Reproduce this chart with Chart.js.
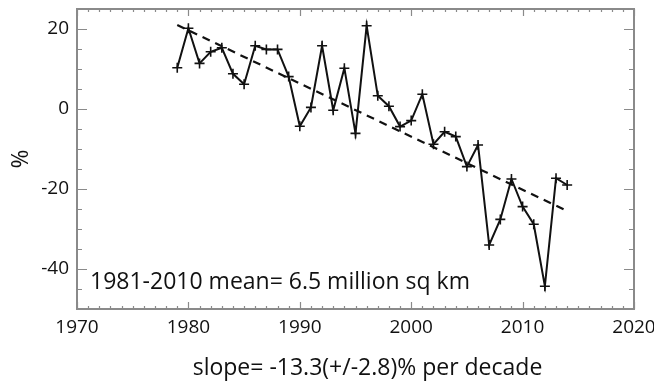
<!DOCTYPE html>
<html lang="en">
<head>
    <meta charset="UTF-8">
    <title>Sea ice extent anomaly</title>
    <script src="https://cdn.jsdelivr.net/npm/chart.js"></script>
    <style>
        body { margin: 0; background: #fff; }
    </style>
</head>
<body>
    <canvas id="myChart" width="654" height="381"></canvas>

    <script>
        // data
        const years = [1979, 1980, 1981, 1982, 1983, 1984, 1985, 1986, 1987, 1988,
                       1989, 1990, 1991, 1992, 1993, 1994, 1995, 1996, 1997, 1998,
                       1999, 2000, 2001, 2002, 2003, 2004, 2005, 2006, 2007, 2008,
                       2009, 2010, 2011, 2012, 2013, 2014];
        const anomaly = [10.3, 20.2, 11.4, 14.3, 15.3, 8.8, 6.2, 15.8, 14.9, 14.9,
                         8.1, -4.3, 0.4, 15.8, -0.3, 10.2, -6.1, 20.8, 3.3, 0.7,
                         -4.4, -2.9, 3.7, -8.8, -5.7, -6.9, -14.4, -9.0, -34.0, -27.6,
                         -17.5, -24.4, -28.8, -44.3, -17.3, -19.0];
        const trendYears = [1979, 2014];
        const trendValues = [21.0, -25.5];

        const xTicks = [1970, 1980, 1990, 2000, 2010, 2020];
        const yTicks = [-40, -20, 0, 20];
        const meanLabel = '1981-2010 mean= 6.5 million sq km';
        const slopeLabel = 'slope= -13.3(+/-2.8)% per decade';

        const FONT = "'Open Sans', sans-serif";

        // box, inward ticks and the two text lines
        const framePlugin = {
            id: 'frame',
            afterDraw(chart) {
                const { ctx, chartArea: a, scales: { x, y } } = chart;
                ctx.save();
                ctx.strokeStyle = '#8a8a8a';
                ctx.lineWidth = 1.2;
                ctx.beginPath();
                for (let yr = x.min; yr <= x.max; yr++) {
                    const px = Math.round(x.getPixelForValue(yr)) + 0.5;
                    const len = yr % 10 === 0 ? 7 : 3;
                    ctx.moveTo(px, a.bottom); ctx.lineTo(px, a.bottom - len);
                    ctx.moveTo(px, a.top); ctx.lineTo(px, a.top + len);
                }
                for (let v = y.min; v <= y.max; v += 5) {
                    const py = Math.round(y.getPixelForValue(v)) + 0.5;
                    const len = v % 20 === 0 ? 10 : 5;
                    ctx.moveTo(a.left, py); ctx.lineTo(a.left + len, py);
                    ctx.moveTo(a.right, py); ctx.lineTo(a.right - len, py);
                }
                ctx.stroke();
                ctx.lineWidth = 2;
                ctx.strokeRect(a.left, a.top, a.right - a.left, a.bottom - a.top);

                ctx.fillStyle = '#111';
                ctx.font = '23px ' + FONT;
                ctx.textBaseline = 'alphabetic';
                ctx.textAlign = 'left';
                ctx.fillText(meanLabel, a.left + 13, a.bottom - 20);
                ctx.textAlign = 'center';
                ctx.fillText(slopeLabel, (a.left + a.right) / 2 + 12, a.bottom + 66);
                ctx.restore();
            }
        };

        const noOverhang = s => {
            s.paddingLeft = 0; s.paddingRight = 0;
            s.paddingTop = 0; s.paddingBottom = 0;
        };

        const ctx = document.getElementById('myChart').getContext('2d');
        new Chart(ctx, {
            type: 'line',
            data: {
                datasets: [{
                    data: years.map((yr, i) => ({ x: yr, y: anomaly[i] })),
                    borderColor: '#111',
                    borderWidth: 2,
                    pointStyle: 'cross',
                    pointRadius: 5,
                    pointBorderWidth: 1.6,
                    pointBorderColor: '#111',
                    tension: 0
                }, {
                    data: trendYears.map((yr, i) => ({ x: yr, y: trendValues[i] })),
                    borderColor: '#111',
                    borderWidth: 2.2,
                    borderDash: [8, 6],
                    pointRadius: 0
                }]
            },
            options: {
                responsive: false,
                animation: false,
                maintainAspectRatio: false,
                layout: { padding: { top: 9, right: 20, left: 0, bottom: 0 } },
                plugins: { legend: { display: false }, tooltip: { enabled: false } },
                scales: {
                    x: {
                        type: 'linear',
                        min: 1970,
                        max: 2020,
                        afterBuildTicks: s => { s.ticks = xTicks.map(v => ({ value: v })); },
                        afterFit: s => { s.height = 72; noOverhang(s); },
                        grid: { display: false, drawTicks: false },
                        border: { display: false },
                        ticks: {
                            color: '#111',
                            padding: 7,
                            maxRotation: 0,
                            font: { family: FONT, size: 19 },
                            callback: v => String(v)
                        }
                    },
                    y: {
                        min: -50,
                        max: 25,
                        afterBuildTicks: s => { s.ticks = yTicks.map(v => ({ value: v })); },
                        afterFit: s => { s.width = 77; noOverhang(s); },
                        grid: { display: false, drawTicks: false },
                        border: { display: false },
                        ticks: {
                            color: '#111',
                            padding: 8,
                            font: { family: FONT, size: 19 },
                            callback: v => String(v)
                        },
                        title: {
                            display: true,
                            text: '%',
                            color: '#111',
                            font: { family: FONT, size: 23 },
                            padding: { top: 8, bottom: 4 }
                        }
                    }
                }
            },
            plugins: [framePlugin]
        });
    </script>
</body>
</html>
